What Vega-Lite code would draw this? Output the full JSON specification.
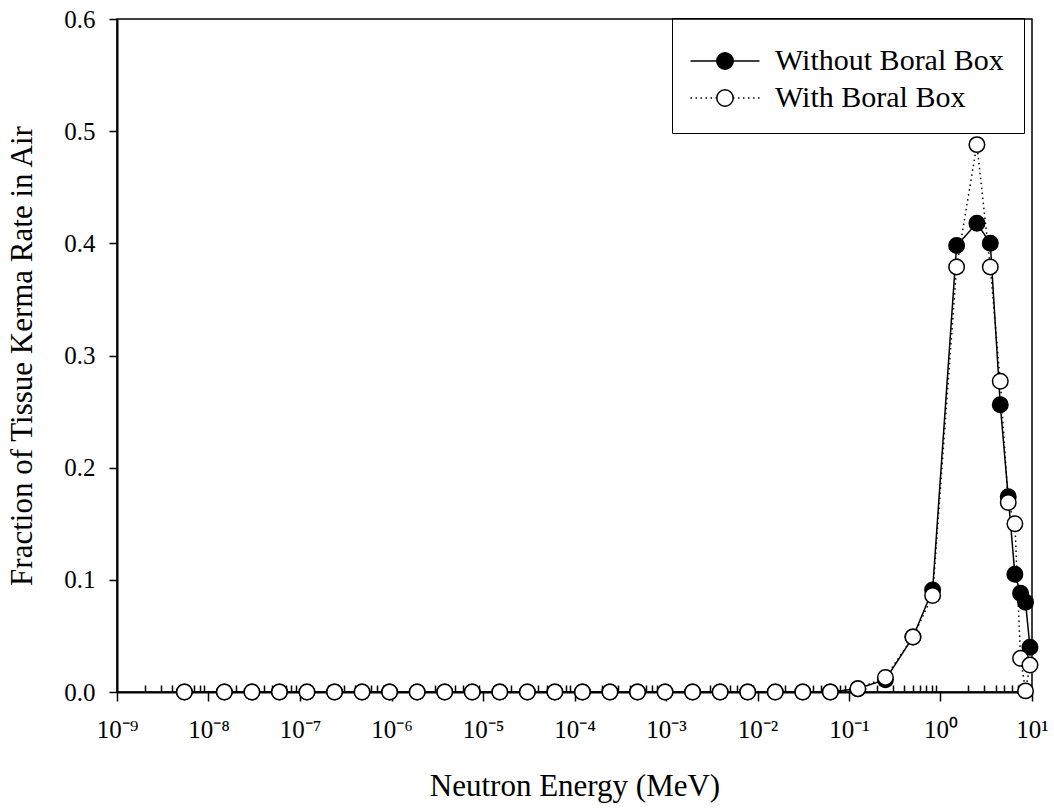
{
  "$schema": "https://vega.github.io/schema/vega-lite/v6.json",
  "width": 915,
  "height": 673,
  "autosize": {"type": "none"},
  "padding": {"left": 117, "top": 19, "right": 22, "bottom": 119},
  "background": "white",
  "config": {
    "font": "Liberation Serif",
    "view": {"stroke": "black", "strokeWidth": 1.5},
    "axis": {"domainColor": "black", "tickColor": "black", "labelColor": "black", "titleColor": "black", "grid": false, "labelFont": "Liberation Serif", "titleFont": "Liberation Serif", "titleFontWeight": "normal"},
    "legend": {"labelFont": "Liberation Serif", "labelColor": "black", "titleFont": "Liberation Serif"}
  },
  "data": {
    "values": [
      {"E": 5.45e-9, "frac": 0, "series": "Without Boral Box"},
      {"E": 1.49e-8, "frac": 0, "series": "Without Boral Box"},
      {"E": 2.98e-8, "frac": 0, "series": "Without Boral Box"},
      {"E": 5.96e-8, "frac": 0, "series": "Without Boral Box"},
      {"E": 1.192e-7, "frac": 0, "series": "Without Boral Box"},
      {"E": 2.384e-7, "frac": 0, "series": "Without Boral Box"},
      {"E": 4.768e-7, "frac": 0, "series": "Without Boral Box"},
      {"E": 9.537e-7, "frac": 0, "series": "Without Boral Box"},
      {"E": 1.907e-6, "frac": 0, "series": "Without Boral Box"},
      {"E": 3.815e-6, "frac": 0, "series": "Without Boral Box"},
      {"E": 7.629e-6, "frac": 0, "series": "Without Boral Box"},
      {"E": 1.526e-5, "frac": 0, "series": "Without Boral Box"},
      {"E": 3.052e-5, "frac": 0, "series": "Without Boral Box"},
      {"E": 6.104e-5, "frac": 0, "series": "Without Boral Box"},
      {"E": 1.221e-4, "frac": 0, "series": "Without Boral Box"},
      {"E": 2.441e-4, "frac": 0, "series": "Without Boral Box"},
      {"E": 4.883e-4, "frac": 0, "series": "Without Boral Box"},
      {"E": 9.766e-4, "frac": 0, "series": "Without Boral Box"},
      {"E": 1.953e-3, "frac": 0, "series": "Without Boral Box"},
      {"E": 3.906e-3, "frac": 0, "series": "Without Boral Box"},
      {"E": 7.813e-3, "frac": 0, "series": "Without Boral Box"},
      {"E": 0.01563, "frac": 0, "series": "Without Boral Box"},
      {"E": 0.03125, "frac": 0, "series": "Without Boral Box"},
      {"E": 0.0625, "frac": 0, "series": "Without Boral Box"},
      {"E": 0.125, "frac": 0.003, "series": "Without Boral Box"},
      {"E": 0.25, "frac": 0.011, "series": "Without Boral Box"},
      {"E": 0.5, "frac": 0.049, "series": "Without Boral Box"},
      {"E": 0.82, "frac": 0.091, "series": "Without Boral Box"},
      {"E": 1.5, "frac": 0.398, "series": "Without Boral Box"},
      {"E": 2.5, "frac": 0.418, "series": "Without Boral Box"},
      {"E": 3.5, "frac": 0.4, "series": "Without Boral Box"},
      {"E": 4.5, "frac": 0.256, "series": "Without Boral Box"},
      {"E": 5.5, "frac": 0.174, "series": "Without Boral Box"},
      {"E": 6.5, "frac": 0.105, "series": "Without Boral Box"},
      {"E": 7.5, "frac": 0.088, "series": "Without Boral Box"},
      {"E": 8.5, "frac": 0.08, "series": "Without Boral Box"},
      {"E": 9.5, "frac": 0.04, "series": "Without Boral Box"},
      {"E": 5.45e-9, "frac": 0, "series": "With Boral Box"},
      {"E": 1.49e-8, "frac": 0, "series": "With Boral Box"},
      {"E": 2.98e-8, "frac": 0, "series": "With Boral Box"},
      {"E": 5.96e-8, "frac": 0, "series": "With Boral Box"},
      {"E": 1.192e-7, "frac": 0, "series": "With Boral Box"},
      {"E": 2.384e-7, "frac": 0, "series": "With Boral Box"},
      {"E": 4.768e-7, "frac": 0, "series": "With Boral Box"},
      {"E": 9.537e-7, "frac": 0, "series": "With Boral Box"},
      {"E": 1.907e-6, "frac": 0, "series": "With Boral Box"},
      {"E": 3.815e-6, "frac": 0, "series": "With Boral Box"},
      {"E": 7.629e-6, "frac": 0, "series": "With Boral Box"},
      {"E": 1.526e-5, "frac": 0, "series": "With Boral Box"},
      {"E": 3.052e-5, "frac": 0, "series": "With Boral Box"},
      {"E": 6.104e-5, "frac": 0, "series": "With Boral Box"},
      {"E": 1.221e-4, "frac": 0, "series": "With Boral Box"},
      {"E": 2.441e-4, "frac": 0, "series": "With Boral Box"},
      {"E": 4.883e-4, "frac": 0, "series": "With Boral Box"},
      {"E": 9.766e-4, "frac": 0, "series": "With Boral Box"},
      {"E": 1.953e-3, "frac": 0, "series": "With Boral Box"},
      {"E": 3.906e-3, "frac": 0, "series": "With Boral Box"},
      {"E": 7.813e-3, "frac": 0, "series": "With Boral Box"},
      {"E": 0.01563, "frac": 0, "series": "With Boral Box"},
      {"E": 0.03125, "frac": 0, "series": "With Boral Box"},
      {"E": 0.0625, "frac": 0, "series": "With Boral Box"},
      {"E": 0.125, "frac": 0.003, "series": "With Boral Box"},
      {"E": 0.25, "frac": 0.013, "series": "With Boral Box"},
      {"E": 0.5, "frac": 0.049, "series": "With Boral Box"},
      {"E": 0.82, "frac": 0.086, "series": "With Boral Box"},
      {"E": 1.5, "frac": 0.379, "series": "With Boral Box"},
      {"E": 2.5, "frac": 0.488, "series": "With Boral Box"},
      {"E": 3.5, "frac": 0.379, "series": "With Boral Box"},
      {"E": 4.5, "frac": 0.277, "series": "With Boral Box"},
      {"E": 5.5, "frac": 0.169, "series": "With Boral Box"},
      {"E": 6.5, "frac": 0.15, "series": "With Boral Box"},
      {"E": 7.5, "frac": 0.03, "series": "With Boral Box"},
      {"E": 8.5, "frac": 0.001, "series": "With Boral Box"},
      {"E": 9.5, "frac": 0.024, "series": "With Boral Box"}
    ]
  },
  "layer": [
    {
      "mark": {"type": "line", "color": "black", "strokeWidth": 1.5},
      "encoding": {
        "x": {
          "field": "E", "type": "quantitative",
          "scale": {"type": "log", "domain": [1e-9, 10], "nice": false},
          "axis": {
            "orient": "bottom",
            "values": [1e-9, 1e-8, 1e-7, 1e-6, 1e-5, 1e-4, 1e-3, 1e-2, 1e-1, 1, 10],
            "labelExpr": "['10⁻⁹','10⁻⁸','10⁻⁷','10⁻⁶','10⁻⁵','10⁻⁴','10⁻³','10⁻²','10⁻¹','10⁰','10¹'][round(log(datum.value)/LN10)+9]",
            "tickSize": 9, "tickWidth": 1.5, "domainWidth": 2,
            "labelFontSize": 25, "labelPadding": 16, "labelFlush": false, "labelOverlap": false,
            "title": "Neutron Energy (MeV)", "titleFontSize": 31, "titlePadding": 29
          }
        },
        "y": {
          "field": "frac", "type": "quantitative",
          "scale": {"domain": [0, 0.6], "nice": false},
          "axis": {
            "values": [0, 0.1, 0.2, 0.3, 0.4, 0.5, 0.6], "format": ".1f",
            "tickSize": 8, "tickWidth": 1.5, "domainWidth": 2,
            "labelFontSize": 25, "labelPadding": 14,
            "title": "Fraction of Tissue Kerma Rate in Air", "titleFontSize": 31, "titlePadding": 25
          }
        },
        "strokeDash": {
          "field": "series", "type": "nominal",
          "scale": {"domain": ["Without Boral Box", "With Boral Box"], "range": [[1, 0], [1.5, 3.5]]},
          "legend": {
            "orient": "none", "legendX": 555, "legendY": -1, "title": " ", "titleFontSize": 2, "titlePadding": 6,
            "symbolType": "M -4.2 0 L -0.97 0 M 0.97 0 L 4.2 0",
            "symbolSize": 270, "symbolStrokeColor": "black", "symbolStrokeWidth": 1.5,
            "symbolOffset": 18, "labelOffset": 35, "labelLimit": 0,
            "labelFontSize": 30, "rowPadding": 7,
            "strokeColor": "black", "padding": 20
          }
        }
      }
    },
    {
      "mark": {"type": "point", "shape": "circle", "filled": true, "size": 240, "stroke": "black", "strokeWidth": 1.5, "opacity": 1},
      "encoding": {
        "x": {
          "field": "E", "type": "quantitative",
          "axis": {
            "orient": "bottom",
            "values": [2e-9,3e-9,4e-9,5e-9,6e-9,7e-9,8e-9,9e-9,2e-8,3e-8,4e-8,5e-8,6e-8,7e-8,8e-8,9e-8,2e-7,3e-7,4e-7,5e-7,6e-7,7e-7,8e-7,9e-7,2e-6,3e-6,4e-6,5e-6,6e-6,7e-6,8e-6,9e-6,2e-5,3e-5,4e-5,5e-5,6e-5,7e-5,8e-5,9e-5,2e-4,3e-4,4e-4,5e-4,6e-4,7e-4,8e-4,9e-4,2e-3,3e-3,4e-3,5e-3,6e-3,7e-3,8e-3,9e-3,0.02,0.03,0.04,0.05,0.06,0.07,0.08,0.09,0.2,0.3,0.4,0.5,0.6,0.7,0.8,0.9,2,3,4,5,6,7,8,9],
            "labels": false, "domain": false, "tickSize": -7, "tickWidth": 1.5, "title": null
          }
        },
        "y": {"field": "frac", "type": "quantitative"},
        "fill": {
          "field": "series", "type": "nominal", "sort": "descending",
          "scale": {"range": ["black", "white"]},
          "legend": {
            "orient": "none", "legendX": 555, "legendY": -1, "title": " ", "titleFontSize": 2, "titlePadding": 6,
            "symbolType": "circle",
            "symbolSize": 270, "symbolStrokeColor": "black", "symbolStrokeWidth": 1.5,
            "symbolOffset": 18, "labelOffset": 35, "labelLimit": 0,
            "labelFontSize": 30, "labelOpacity": 0, "rowPadding": 7,
            "padding": 20
          }
        }
      }
    }
  ],
  "resolve": {"axis": {"x": "independent"}}
}
